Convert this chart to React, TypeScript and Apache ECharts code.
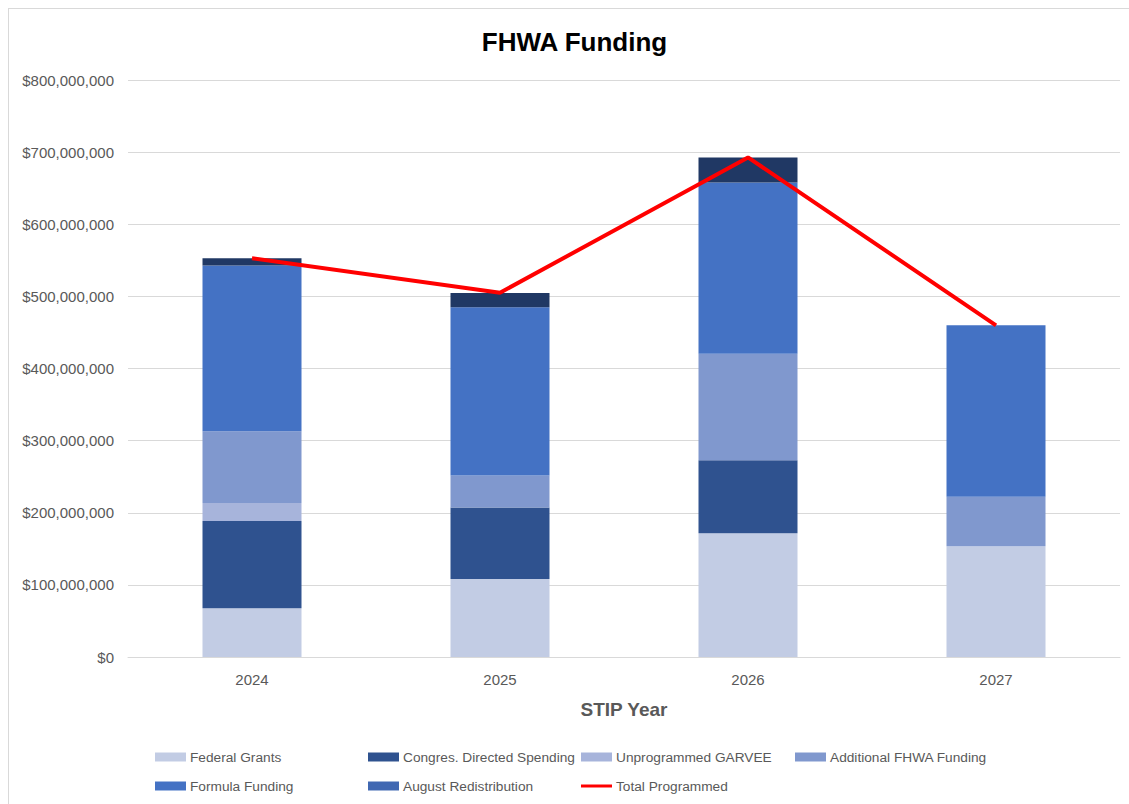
import React, { useEffect, useRef } from "react";
import * as echarts from "echarts";

const years = ["2024", "2025", "2026", "2027"];
const federalGrants = [67500000, 108000000, 171500000, 153500000];
const congresDirected = [121000000, 99400000, 101200000, 0];
const unprogrammedGarvee = [25000000, 0, 0, 0];
const additionalFhwa = [99500000, 44400000, 147800000, 68800000];
const formulaFunding = [229700000, 233000000, 237500000, 237500000];
const augustRedistribution = [10200000, 20000000, 34700000, 0];
const totalProgrammed = [553000000, 505000000, 692700000, 459800000];

const FONT = "'Liberation Sans', Arial, sans-serif";
const GRAY = "#595959";

export default function App() {
  const ref = useRef<HTMLDivElement>(null);

  useEffect(() => {
    document.body.style.margin = "0";
    if (!ref.current) return;
    const chart = echarts.init(ref.current, undefined, { renderer: "svg" });

    const barSeries = [
      { name: "Federal Grants", data: federalGrants, color: "#C2CCE4" },
      { name: "Congres. Directed Spending", data: congresDirected, color: "#2F528F" },
      { name: "Unprogrammed GARVEE", data: unprogrammedGarvee, color: "#A7B4DB" },
      { name: "Additional FHWA Funding", data: additionalFhwa, color: "#8098CE" },
      { name: "Formula Funding", data: formulaFunding, color: "#4472C4" },
      { name: "August Redistribution", data: augustRedistribution, color: "#203864" },
    ];

    const legendPos: any[] = [
      { name: "Federal Grants", left: 146, top: 741 },
      { name: "Congres. Directed Spending", left: 359, top: 741 },
      { name: "Unprogrammed GARVEE", left: 572, top: 741 },
      { name: "Additional FHWA Funding", left: 786, top: 741 },
      { name: "Formula Funding", left: 146, top: 770 },
      { name: "August Redistribution", left: 359, top: 770, itemStyle: { color: "#4068B2" } },
      { name: "Total Programmed", left: 572, top: 770, line: true },
    ];

    const option: any = {
      animation: false,
      backgroundColor: "#ffffff",
      textStyle: { fontFamily: FONT },
      graphic: [
        {
          type: "text",
          x: 565.5,
          y: 33,
          style: {
            text: "FHWA Funding",
            fontFamily: FONT,
            fontSize: 26,
            fontWeight: "bold",
            fill: "#000000",
            textAlign: "center",
            textVerticalAlign: "middle",
          },
        },
      ],
      legend: legendPos.map((l) => ({
        data: [
          l.itemStyle
            ? { name: l.name, icon: "rect", itemStyle: l.itemStyle }
            : { name: l.name, icon: "rect" },
        ],
        left: l.left,
        top: l.top,
        itemWidth: 31,
        itemHeight: l.line ? 3 : 9,
        itemGap: 0,
        padding: 0,
        textStyle: { fontFamily: FONT, fontSize: 13.7, color: GRAY, padding: [0, 0, 0, -1] },
        selectedMode: false,
      })),
      grid: { left: 119, right: 9, top: 71, bottom: 147, containLabel: false },
      xAxis: {
        type: "category",
        data: years,
        axisLine: { lineStyle: { color: "#D9D9D9", width: 1 } },
        axisTick: { show: false },
        axisLabel: { fontFamily: FONT, fontSize: 15, color: GRAY, margin: 15 },
        name: "STIP Year",
        nameLocation: "middle",
        nameGap: 43,
        nameTextStyle: { fontFamily: FONT, fontSize: 19, fontWeight: "bold", color: GRAY },
      },
      yAxis: {
        type: "value",
        min: 0,
        max: 800000000,
        interval: 100000000,
        axisLine: { show: false },
        axisTick: { show: false },
        splitLine: { lineStyle: { color: "#D9D9D9", width: 1 } },
        axisLabel: {
          fontFamily: FONT,
          fontSize: 15,
          color: GRAY,
          margin: 14,
          formatter: (v: number) => "$" + v.toLocaleString("en-US"),
        },
      },
      series: [
        ...barSeries.map((s) => ({
          name: s.name,
          type: "bar",
          stack: "funding",
          barWidth: 99,
          data: s.data,
          itemStyle: { color: s.color },
          emphasis: { disabled: true },
        })),
        {
          name: "Total Programmed",
          type: "line",
          data: totalProgrammed,
          symbol: "none",
          z: 5,
          lineStyle: { color: "#FF0000", width: 4 },
          itemStyle: { color: "#FF0000" },
          emphasis: { disabled: true },
        },
      ],
    };

    chart.setOption(option);
    return () => chart.dispose();
  }, []);

  return (
    <div style={{ position: "relative", width: 1129, height: 804, overflow: "hidden", background: "#fff" }}>
      <div
        style={{
          position: "absolute",
          left: 8,
          top: 8,
          width: 1200,
          height: 900,
          borderTop: "1px solid #D9D9D9",
          borderLeft: "1px solid #D9D9D9",
        }}
      />
      <div ref={ref} style={{ position: "absolute", left: 9, top: 9, width: 1120, height: 795 }} />
    </div>
  );
}
